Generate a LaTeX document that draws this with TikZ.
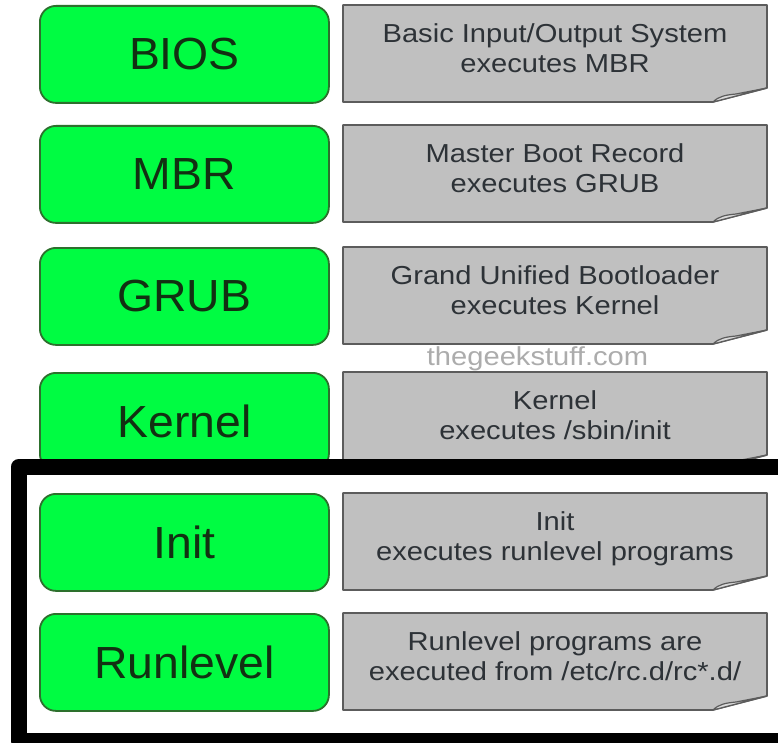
\documentclass[tikz,border=0pt]{standalone}
\usepackage{fontspec}
\setmainfont{Liberation Sans}
\newfontfamily\grayfont[FakeStretch=1.12]{Liberation Sans}
\newfontfamily\greenfont[FakeStretch=1.03]{Liberation Sans}
\definecolor{gfill}{RGB}{0,252,66}
\definecolor{gborder}{RGB}{45,112,45}
\definecolor{gtext}{RGB}{18,48,18}
\definecolor{grayfill}{RGB}{192,192,192}
\definecolor{flapfill}{RGB}{218,218,218}
\definecolor{grayborder}{RGB}{92,92,92}
\definecolor{graytext}{RGB}{45,50,55}
\definecolor{wmark}{RGB}{172,172,172}
\tikzset{
  greenbox/.style={draw=gborder, fill=gfill, line width=1.8pt, rounded corners=16pt,
    minimum width=289pt, minimum height=97pt, inner sep=0pt, anchor=north west,
    text=gtext, font=\greenfont\fontsize{45}{45}\selectfont},
  grayshape/.style={draw=grayborder, fill=grayfill, line width=1.6pt, line join=round},
  flapshape/.style={draw=grayborder, fill=flapfill, line width=1.2pt, line join=round},
  graylabel/.style={anchor=north, inner sep=0pt, align=center, text=graytext,
    font=\grayfont\fontsize{26}{30}\selectfont},
  watermark/.style={anchor=base, inner sep=0pt, text=wmark,
    font=\grayfont\fontsize{26}{30}\selectfont},
  frameline/.style={draw=black, line width=16pt, line join=round}
}
\newcommand{\grayitem}[4]{%
  \path[grayshape] (343,#2) -- (767,#2) -- (767,{#2+83}) -- (713,{#2+97}) -- (343,{#2+97}) -- cycle;
  \path[flapshape] (713,{#2+97}) .. controls (719,{#2+91}) and (726,{#2+90}) .. (736,{#2+89}) -- (767,{#2+83}) -- cycle;
  \node[graylabel] (#1) at (555,{#2+17}) {\rule{0pt}{20pt}#3\\#4\rule[-6pt]{0pt}{6pt}};
}
\begin{document}
\begin{tikzpicture}[x=1pt,y=-1pt]
\useasboundingbox (0,0) rectangle (778,743);
\clip (0,0) rectangle (778,743);
\fill[white] (0,0) rectangle (778,743);

\node[greenbox] (bios) at (39,5) {BIOS};
\node[greenbox] (mbr) at (39,125) {MBR};
\node[greenbox] (grub) at (39,247) {GRUB};
\node[greenbox] (kernel) at (39,372) {Kernel};
\node[greenbox] (init) at (39,493) {Init};
\node[greenbox] (runlevel) at (39,613) {Runlevel};

\grayitem{biosd}{5}{Basic Input/Output System}{executes MBR}
\grayitem{mbrd}{125}{Master Boot Record}{executes GRUB}
\grayitem{grubd}{247}{Grand Unified Bootloader}{executes Kernel}
\grayitem{kerneld}{372}{Kernel}{executes /sbin/init}
\grayitem{initd}{493}{Init}{executes runlevel programs}
\grayitem{runleveld}{613}{Runlevel programs are}{executed from /etc/rc.d/rc*.d/}

\node[watermark] (wm) at (537.5,365) {thegeekstuff.com};

\path[frameline] (18.5,467) rectangle (800,741);
\end{tikzpicture}
\end{document}
